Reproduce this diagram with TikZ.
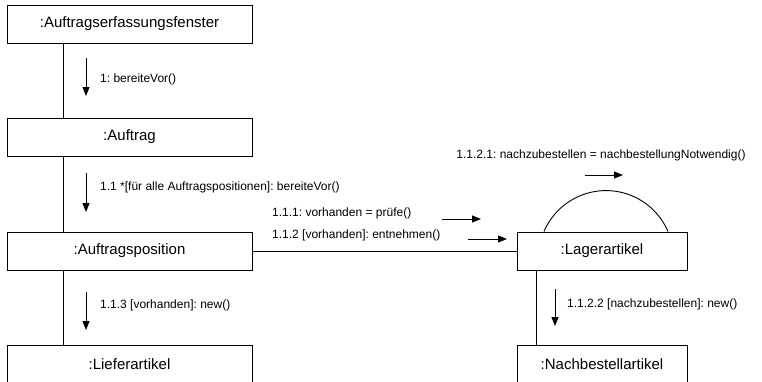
\documentclass[tikz,border=0pt]{standalone}
\usepackage{fontspec}
\setmainfont{Liberation Sans}
\usetikzlibrary{arrows.meta,calc}
\frenchspacing
\begin{document}
\begin{tikzpicture}[x=1pt,y=-1pt,
  obj/.style={draw, line width=0.9pt, minimum width=245pt, minimum height=38pt,
    inner sep=0pt, font=\fontsize{15}{18}\selectfont},
  msg/.style={font=\fontsize{12}{14}\selectfont, inner sep=0pt, anchor=west},
  link/.style={line width=0.9pt},
  flow/.style={line width=0.9pt, -{Triangle[length=9pt,width=7pt]}}]
\path[use as bounding box] (0,0) rectangle (762,381);
\clip (0,0) rectangle (762,381);

% objects
\node[obj] (fenster)  at (129.5,24)  {:Auftragserfassungsfenster};
\node[obj] (auftrag)  at (129.5,137) {:Auftrag};
\node[obj] (position) at (129.5,251) {:Auftragsposition};
\node[obj] (liefer)   at (129.5,364) {:Lieferartikel};
\node[obj, minimum width=170pt] (lager)    at (602,251) {:Lagerartikel};
\node[obj, minimum width=170pt] (nachbest) at (602,364) {:Nachbestellartikel};

% links
\coordinate (lx) at (63,0);
\coordinate (rx) at (536,0);
\draw[link] (fenster.south -| lx) -- (auftrag.north -| lx);
\draw[link] (auftrag.south -| lx) -- (position.north -| lx);
\draw[link] (position.south -| lx) -- (liefer.north -| lx);
\draw[link] (position.east) -- (lager.west);
\draw[link] (lager.south -| rx) -- (nachbest.north -| rx);
\draw[link] (lager.north) ++(-58,0) arc[start angle=-156.9, end angle=-23.1, radius=67.4];

% messages
\draw[flow] (86,58) -- (86,96);
\node[msg] (m1) at (100,79) {1: bereiteVor()};

\draw[flow] (86,173) -- (86,212);
\node[msg] (m11) at (100,187) {1.1 *[für alle Auftragspositionen]: bereiteVor()};

\draw[flow] (86,292) -- (86,330);
\node[msg] (m113) at (100,305) {1.1.3 [vorhanden]: new()};

\node[msg] (m111) at (272,213) {1.1.1: vorhanden = prüfe()};
\draw[flow] (442,219) -- (481,219);
\node[msg] (m112) at (272,235) {1.1.2 [vorhanden]: entnehmen()};
\draw[flow] (468,239) -- (507,239);

\node[msg, anchor=center] (m1121) at (601,155) {1.1.2.1: nachzubestellen = nachbestellungNotwendig()};
\draw[flow] (585,175) -- (623,175);

\draw[flow] (555,289) -- (555,326);
\node[msg] (m1122) at (567,304) {1.1.2.2 [nachzubestellen]: new()};
\end{tikzpicture}
\end{document}
